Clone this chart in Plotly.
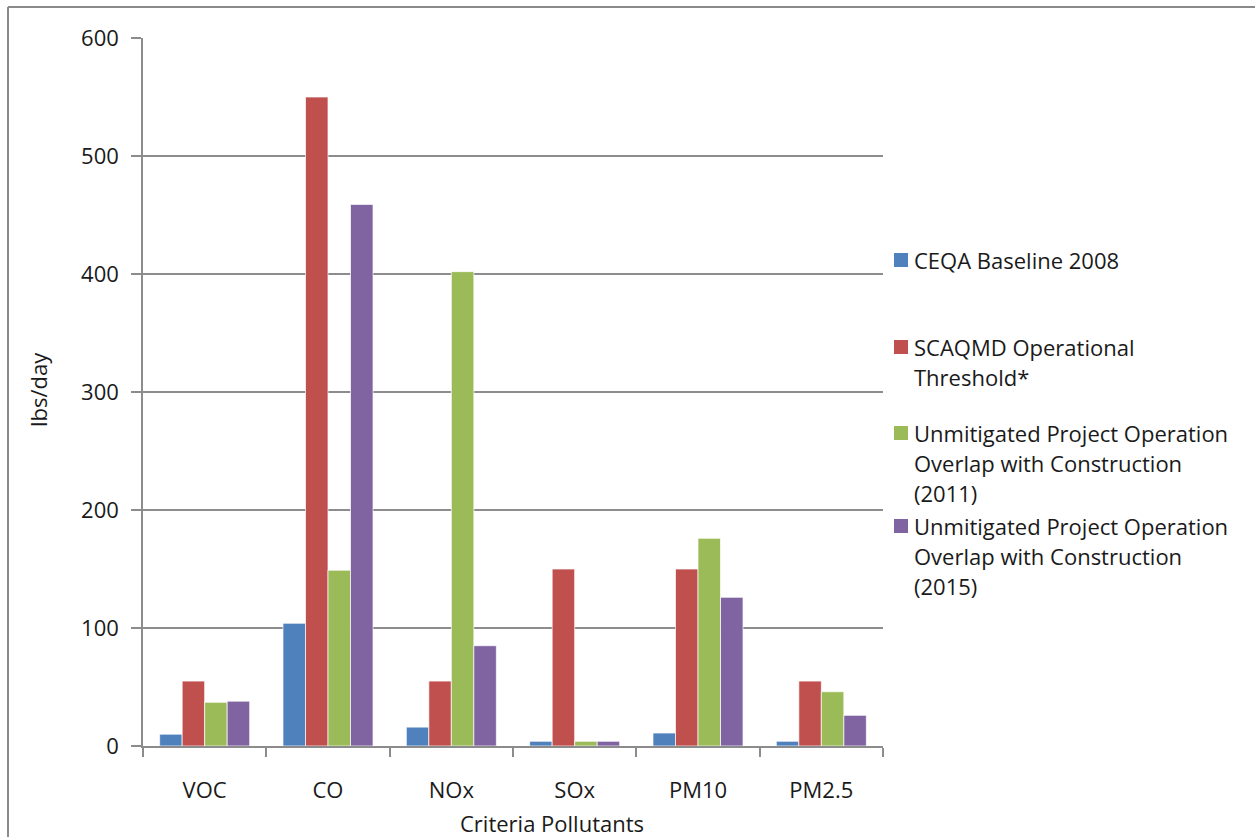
import plotly.graph_objects as go

# Criteria pollutant emissions (lbs/day)
categories = ["VOC", "CO", "NOx", "SOx", "PM10", "PM2.5"]
series_names = [
    "CEQA Baseline 2008",
    "SCAQMD Operational Threshold*",
    "Unmitigated Project Operation Overlap with Construction (2011)",
    "Unmitigated Project Operation Overlap with Construction (2015)",
]
baseline_2008 = [10, 104, 16, 4, 11, 4]
scaqmd_threshold = [55, 550, 55, 150, 150, 55]
overlap_2011 = [37, 149, 402, 4, 176, 46]
overlap_2015 = [38, 459, 85, 4, 126, 26]
series_values = [baseline_2008, scaqmd_threshold, overlap_2011, overlap_2015]

# Legend labels broken into lines
legend_lines = [
    ["CEQA Baseline 2008"],
    ["SCAQMD Operational", "Threshold*"],
    ["Unmitigated Project Operation", "Overlap with Construction", "(2011)"],
    ["Unmitigated Project Operation", "Overlap with Construction", "(2015)"],
]
y_ticks = [0, 100, 200, 300, 400, 500, 600]

colors = ["#4F81BD", "#C0504D", "#9BBB59", "#8064A2"]
FONT = "Open Sans"
TXT = "#1a1a1a"
GRID = "#8c8c8c"

W, H = 1255, 837
L, R, T, B = 143, 883, 38, 746  # plot area edges in pixels


def px(x):
    return (x - L) / (R - L)


def py(y):
    return (B - y) / (B - T)


fig = go.Figure()
for name, vals, col in zip(series_names, series_values, colors):
    fig.add_trace(go.Bar(
        x=categories, y=vals, name=name,
        marker=dict(color=col, line=dict(color="rgba(255,255,255,0.7)", width=1)),
        showlegend=False,
    ))

# Hand-built legend on the right: colored squares with wrapped labels
entry_tops = [260, 347, 433, 526]
line_step = 30
shapes = []
annotations = []
for lines, col, yc in zip(legend_lines, colors, entry_tops):
    shapes.append(dict(
        type="rect", xref="paper", yref="paper",
        x0=px(894), x1=px(908), y0=py(yc + 7), y1=py(yc - 7),
        fillcolor=col, line=dict(width=0),
    ))
    for i, txt in enumerate(lines):
        annotations.append(dict(
            text=txt, xref="paper", yref="paper",
            x=px(912), y=py(yc + i * line_step),
            xanchor="left", yanchor="middle", showarrow=False,
            font=dict(family=FONT, size=22, color=TXT),
        ))

# Axis titles
annotations.append(dict(
    text="lbs/day", xref="paper", yref="paper", x=px(38), y=py(390),
    xanchor="center", yanchor="middle", textangle=-90, showarrow=False,
    font=dict(family=FONT, size=22, color=TXT),
))
annotations.append(dict(
    text="Criteria Pollutants", xref="paper", yref="paper", x=px(552), y=py(823),
    xanchor="center", yanchor="middle", showarrow=False,
    font=dict(family=FONT, size=22, color=TXT),
))

# Outer chart frame (left and top edges)
shapes.append(dict(type="line", xref="paper", yref="paper",
                   x0=px(8), x1=px(8), y0=py(7), y1=py(900),
                   line=dict(color="#8a8a8a", width=2)))
shapes.append(dict(type="line", xref="paper", yref="paper",
                   x0=px(8), x1=px(1300), y0=py(7), y1=py(7),
                   line=dict(color="#8a8a8a", width=2)))

fig.update_layout(
    width=W, height=H,
    margin=dict(l=L, r=W - R, t=T, b=H - B, autoexpand=False),
    paper_bgcolor="white", plot_bgcolor="white",
    barmode="group", bargap=0.27, bargroupgap=0,
    font=dict(family=FONT, size=22, color=TXT),
    shapes=shapes, annotations=annotations,
)
fig.update_xaxes(
    showline=True, linecolor=GRID, linewidth=1.5,
    ticks="outside", tickson="boundaries", ticklen=9, tickcolor=GRID, tickwidth=1.5,
    tickfont=dict(family=FONT, size=22, color=TXT), ticklabelstandoff=24,
    showgrid=False,
)
fig.update_yaxes(
    range=[0, 600], tickvals=y_ticks,
    showline=True, linecolor=GRID, linewidth=1.5,
    ticks="outside", ticklen=10, tickcolor=GRID, tickwidth=1.5,
    showgrid=True, gridcolor=GRID, gridwidth=1.5,
    tickfont=dict(family=FONT, size=22, color=TXT), ticklabelstandoff=8,
    zeroline=False,
)

fig.write_html("out.html")
